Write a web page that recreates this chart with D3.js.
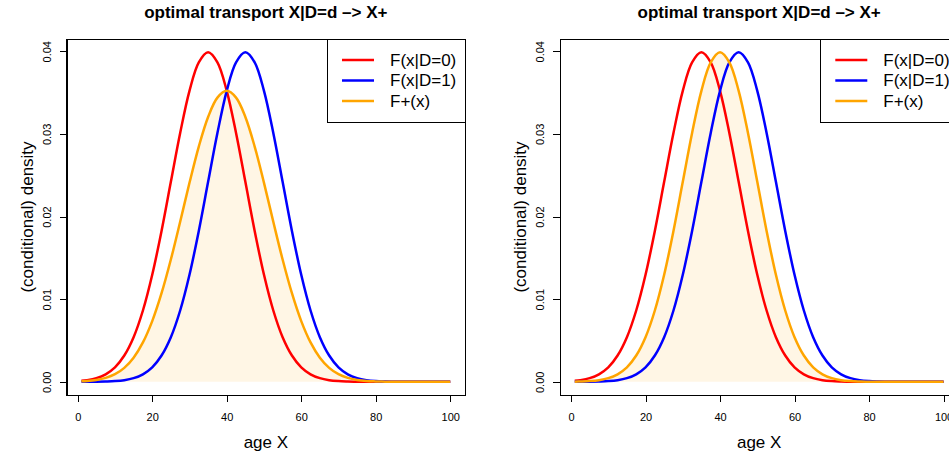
<!DOCTYPE html>
<meta charset="utf-8">
<style>
body{ margin:0; background:#fff; }
svg text{ font-family:"Liberation Sans", Arial, sans-serif; fill:#000; }
.axis text{ font-size:11px; }
.axis path,
.axis line{
  fill:none;
  stroke:#000;
  shape-rendering:crispEdges;
}
.curve{ fill:none; stroke-width:2.5; }
</style>
<svg class="chart" width="949" height="455"></svg>
<script src="https://cdnjs.cloudflare.com/ajax/libs/d3/7.8.5/d3.min.js" charset="utf-8"></script>
<script>
// age grid
var ages = [1, 2.5, 5, 7.5, 10, 12.5, 15, 17.5, 20, 22.5, 25, 27.5, 30, 32.5, 35, 37.5, 40,
            42.5, 45, 47.5, 50, 52.5, 55, 57.5, 60, 62.5, 65, 67.5, 70, 72.5, 75, 77.5, 80,
            82.5, 85, 87.5, 90, 92.5, 95, 97.5, 100];

// F(x|D=0)
var dens0 = [0.00012, 0.00020, 0.00044, 0.00091, 0.00175, 0.00318, 0.00540, 0.00863, 0.01295,
             0.01826, 0.02420, 0.03011, 0.03521, 0.03867, 0.03989, 0.03867, 0.03521, 0.03011,
             0.02420, 0.01826, 0.01295, 0.00863, 0.00540, 0.00318, 0.00175, 0.00091, 0.00044,
             0.00020, 0.00009, 0.00004, 0.00001, 0, 0, 0, 0, 0, 0, 0, 0, 0, 0];

// F(x|D=1)
var dens1 = [0, 0, 0.00001, 0.00004, 0.00009, 0.00020, 0.00044, 0.00091, 0.00175, 0.00318,
             0.00540, 0.00863, 0.01295, 0.01826, 0.02420, 0.03011, 0.03521, 0.03867, 0.03989,
             0.03867, 0.03521, 0.03011, 0.02420, 0.01826, 0.01295, 0.00863, 0.00540, 0.00318,
             0.00175, 0.00091, 0.00044, 0.00020, 0.00009, 0.00004, 0.00001, 0, 0, 0, 0, 0, 0];

// F+(x), left panel
var densPlusL = [0.00006, 0.00010, 0.00023, 0.00048, 0.00092, 0.00169, 0.00292, 0.00477, 0.00735,
                 0.01072, 0.01480, 0.01937, 0.02408, 0.02847, 0.03205, 0.03439, 0.03521, 0.03439,
                 0.03205, 0.02847, 0.02408, 0.01937, 0.01480, 0.01072, 0.00735, 0.00477, 0.00292,
                 0.00169, 0.00092, 0.00048, 0.00023, 0.00010, 0.00005, 0.00002, 0.00001,
                 0, 0, 0, 0, 0, 0];

// F+(x), right panel
var densPlusR = [0.00002, 0.00004, 0.00009, 0.00020, 0.00044, 0.00091, 0.00175, 0.00318, 0.00540,
                 0.00863, 0.01295, 0.01826, 0.02420, 0.03011, 0.03521, 0.03867, 0.03989, 0.03867,
                 0.03521, 0.03011, 0.02420, 0.01826, 0.01295, 0.00863, 0.00540, 0.00318, 0.00175,
                 0.00091, 0.00044, 0.00020, 0.00009, 0.00004, 0.00001, 0, 0, 0, 0, 0, 0, 0, 0];

var xTicks = [0, 20, 40, 60, 80, 100];
var yTicks = [0, 0.01, 0.02, 0.03, 0.04];
var legendLabels = ["F(x|D=0)", "F(x|D=1)", "F+(x)"];
var colors = ["red", "blue", "orange"];
var title = "optimal transport X|D=d \u2013> X+";

var svg = d3.select(".chart");

function panel(left, plus){
  var series = [dens0, dens1, plus];
  var box = {left: left, right: left + 398.3, top: 39, bottom: 395};

  // R style 4% padding
  var xExt = d3.extent(ages), xPad = (xExt[1] - xExt[0]) * 0.04;
  var yMax = d3.max(series, function(s){ return d3.max(s); }), yPad = yMax * 0.04;

  var x = d3.scaleLinear()
    .domain([xExt[0] - xPad, xExt[1] + xPad])
    .range([box.left, box.right]);
  var y = d3.scaleLinear()
    .domain([-yPad, yMax + yPad])
    .range([box.bottom, box.top]);

  var g = svg.append("g");

  var area = d3.area()
    .x(function(d, i){ return x(ages[i]); })
    .y0(y(0))
    .y1(function(d){ return y(d); })
    .curve(d3.curveCatmullRom);

  g.append("path")
    .datum(plus)
    .attr("d", area)
    .attr("fill", "rgba(255,165,0,0.1)");

  var line = d3.line()
    .x(function(d, i){ return x(ages[i]); })
    .y(function(d){ return y(d); })
    .curve(d3.curveCatmullRom);

  g.selectAll(".curve")
      .data(series)
    .enter().append("path")
      .attr("class", "curve")
      .attr("d", line)
      .attr("stroke", function(d, i){ return colors[i]; });

  var xAxis = g.append("g")
    .attr("class", "axis")
    .attr("transform", "translate(0," + box.bottom + ")")
    .call(d3.axisBottom(x).tickValues(xTicks).tickSize(7).tickSizeOuter(0));
  xAxis.selectAll("text")
    .attr("y", 22)
    .attr("dy", "0.35em");

  var yAxis = g.append("g")
    .attr("class", "axis")
    .attr("transform", "translate(" + box.left + ",0)")
    .call(d3.axisLeft(y).tickValues(yTicks).tickSize(7).tickSizeOuter(0)
      .tickFormat(d3.format(".2f")));
  yAxis.selectAll("text")
    .attr("transform", "rotate(-90)")
    .attr("x", 0)
    .attr("y", -20)
    .attr("dy", "0.35em")
    .attr("text-anchor", "middle");

  g.append("rect")
    .attr("x", box.left)
    .attr("y", box.top)
    .attr("width", box.right - box.left)
    .attr("height", box.bottom - box.top)
    .attr("fill", "none")
    .attr("stroke", "#000")
    .attr("shape-rendering", "crispEdges");

  var cx = (box.left + box.right) / 2;
  g.append("text")
    .attr("x", cx)
    .attr("y", 18)
    .attr("text-anchor", "middle")
    .style("font-size", "17px")
    .style("font-weight", "bold")
    .text(title);

  g.append("text")
    .attr("x", cx)
    .attr("y", 448)
    .attr("text-anchor", "middle")
    .style("font-size", "17px")
    .text("age X");

  g.append("text")
    .attr("transform", "translate(" + (box.left - 34) + "," + ((box.top + box.bottom) / 2) + ") rotate(-90)")
    .attr("text-anchor", "middle")
    .style("font-size", "17px")
    .text("(conditional) density");

  // legend, top right
  var lg = g.append("g")
    .attr("transform", "translate(" + (box.right - 138) + "," + box.top + ")");
  lg.append("rect")
    .attr("width", 138)
    .attr("height", 83)
    .attr("fill", "#fff")
    .attr("stroke", "#000")
    .attr("shape-rendering", "crispEdges");
  var item = lg.selectAll(".item")
      .data(legendLabels)
    .enter().append("g")
      .attr("class", "item")
      .attr("transform", function(d, i){ return "translate(0," + (21 + i * 20.5) + ")"; });
  item.append("line")
    .attr("x1", 15).attr("x2", 47)
    .attr("stroke", function(d, i){ return colors[i]; })
    .attr("stroke-width", 2.5);
  item.append("text")
    .attr("x", 63)
    .attr("dy", "0.35em")
    .style("font-size", "17px")
    .text(function(d){ return d; });
}

panel(66.7, densPlusL);
panel(560, densPlusR);
</script>
